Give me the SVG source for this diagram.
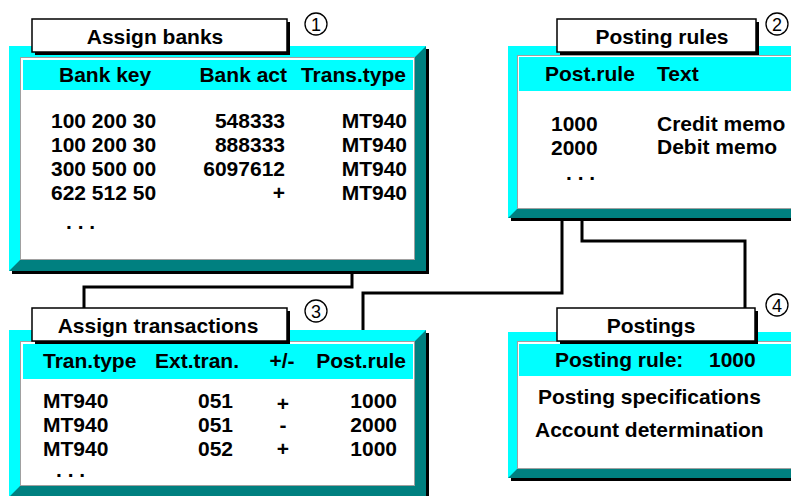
<svg xmlns="http://www.w3.org/2000/svg" width="791" height="496" viewBox="0 0 791 496">
<style>
.t{font-family:"Liberation Sans",Arial,sans-serif;font-weight:bold;font-size:21px;fill:#000}
.n{font-family:"Liberation Sans",Arial,sans-serif;font-size:18px;fill:#000}
.e{text-anchor:end}
.m{text-anchor:middle}
.cy{fill:#00FFFF}
.tl{fill:#008080}
.sh{fill:#000}
.in{fill:#fff;stroke:#a0a0a0;stroke-width:1}
.tb{fill:#fff;stroke:#000;stroke-width:1.5}
.cn{fill:none;stroke:#000;stroke-width:3}
.ci{fill:#fff;stroke:#000;stroke-width:1.3}
</style>
<rect width="791" height="496" fill="#fff"/>
<g id="connectors">
<path class="cn" d="M352,272 V287 H84 V308"/>
<path class="cn" d="M562,219 V293 H363 V331"/>
<path class="cn" d="M582,219 V241 H745 V308"/>
</g>
<g id="assign-banks">
<rect class="sh" x="12" y="49" width="417" height="225"/>
<rect class="cy" x="9" y="46" width="417" height="225"/>
<polygon class="tl" points="426,46 426,271 9,271 20,260 415,260 415,57"/>
<rect class="in" x="20.5" y="57.5" width="394" height="202"/>
<rect class="cy" x="23" y="60" width="390" height="30"/>
<rect class="sh" x="35" y="22" width="255" height="33"/>
<rect class="tb" x="32" y="19" width="255" height="33"/>
<text class="t m" x="155" y="44">Assign banks</text>
<circle class="ci" cx="316" cy="24" r="11"/>
<text class="n m" x="316" y="30.5">1</text>
<text class="t" x="59" y="82">Bank key</text>
<text class="t e" x="287" y="82">Bank act</text>
<text class="t e" x="406" y="82">Trans.type</text>
<text class="t" x="51" y="128">100 200 30</text>
<text class="t" x="51" y="152">100 200 30</text>
<text class="t" x="51" y="176">300 500 00</text>
<text class="t" x="51" y="200">622 512 50</text>
<text class="t e" x="285" y="128">548333</text>
<text class="t e" x="285" y="152">888333</text>
<text class="t e" x="285" y="176">6097612</text>
<text class="t e" x="285" y="200">+</text>
<text class="t e" x="407" y="128">MT940</text>
<text class="t e" x="407" y="152">MT940</text>
<text class="t e" x="407" y="176">MT940</text>
<text class="t e" x="407" y="200">MT940</text>
<text class="t" x="66" y="229">. . .</text>
</g>
<g id="posting-rules">
<rect class="sh" x="511" y="49" width="300" height="172"/>
<rect class="cy" x="508" y="46" width="300" height="172"/>
<polygon class="tl" points="800,46 800,218 508,218 517,209 800,209"/>
<rect class="in" x="517.5" y="55.5" width="290" height="153"/>
<rect class="cy" x="519" y="57" width="280" height="34"/>
<rect class="sh" x="560" y="22" width="199" height="33"/>
<rect class="tb" x="557" y="19" width="199" height="33"/>
<text class="t m" x="662" y="44">Posting rules</text>
<circle class="ci" cx="777" cy="24" r="11"/>
<text class="n m" x="777" y="30.5">2</text>
<text class="t" x="545" y="81">Post.rule</text>
<text class="t" x="657" y="81">Text</text>
<text class="t" x="551" y="131">1000</text>
<text class="t" x="551" y="155">2000</text>
<text class="t" x="657" y="131">Credit memo</text>
<text class="t" x="657" y="154">Debit memo</text>
<text class="t" x="566" y="180">. . .</text>
</g>
<g id="assign-transactions">
<rect class="sh" x="12" y="333" width="417" height="167"/>
<rect class="cy" x="9" y="330" width="417" height="167"/>
<polygon class="tl" points="426,330 426,497 9,497 20,486 415,486 415,341"/>
<rect class="in" x="20.5" y="341.5" width="394" height="144"/>
<rect class="cy" x="23" y="344" width="390" height="35"/>
<rect class="sh" x="35" y="311" width="255" height="33"/>
<rect class="tb" x="32" y="308" width="255" height="33"/>
<text class="t m" x="158" y="333">Assign transactions</text>
<circle class="ci" cx="316" cy="311" r="11"/>
<text class="n m" x="316" y="317.5">3</text>
<text class="t" x="43" y="368">Tran.type</text>
<text class="t" x="155" y="368">Ext.tran.</text>
<text class="t m" x="282" y="368">+/-</text>
<text class="t e" x="406" y="368">Post.rule</text>
<text class="t" x="43" y="408">MT940</text>
<text class="t" x="43" y="432">MT940</text>
<text class="t" x="43" y="456">MT940</text>
<text class="t e" x="233" y="408">051</text>
<text class="t e" x="233" y="432">051</text>
<text class="t e" x="233" y="456">052</text>
<text class="t m" x="283" y="411">+</text>
<text class="t m" x="283" y="432">-</text>
<text class="t m" x="283" y="456">+</text>
<text class="t e" x="397" y="408">1000</text>
<text class="t e" x="397" y="432">2000</text>
<text class="t e" x="397" y="456">1000</text>
<text class="t" x="56" y="477">. . .</text>
</g>
<g id="postings">
<rect class="sh" x="511" y="335" width="300" height="146"/>
<rect class="cy" x="508" y="332" width="300" height="146"/>
<polygon class="tl" points="800,332 800,478 508,478 517,469 800,469"/>
<rect class="in" x="517.5" y="341.5" width="290" height="127"/>
<rect class="cy" x="519" y="344" width="280" height="32"/>
<rect class="sh" x="560" y="311" width="198" height="33"/>
<rect class="tb" x="557" y="308" width="198" height="33"/>
<text class="t m" x="651" y="333">Postings</text>
<circle class="ci" cx="777" cy="305" r="11"/>
<text class="n m" x="777" y="311.5">4</text>
<text class="t" x="555" y="367">Posting rule:</text>
<text class="t" x="709" y="367">1000</text>
<text class="t" x="538" y="404">Posting specifications</text>
<text class="t" x="535" y="437">Account determination</text>
</g>
</svg>
